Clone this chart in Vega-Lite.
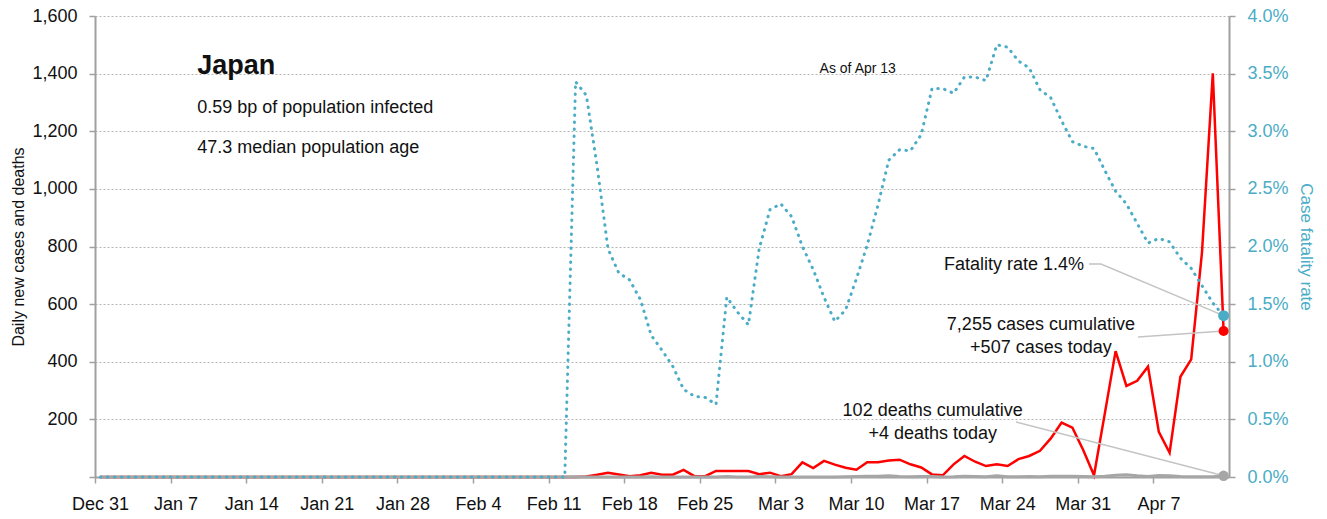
{
  "$schema": "https://vega.github.io/schema/vega-lite/v6.json",
  "width": 1134,
  "height": 461,
  "autosize": {"type": "none"},
  "padding": {"left": 95, "top": 16, "right": 98, "bottom": 42},
  "background": "white",
  "config": {
    "font": "Liberation Sans",
    "view": {"stroke": null},
    "axis": {"labelFontSize": 18, "labelColor": "#111111", "tickSize": 6, "tickColor": "#a0a0a0", "tickWidth": 1.5,
             "domainColor": "#a0a0a0", "domainWidth": 2, "titleFontWeight": "normal", "grid": false},
    "axisBottom": {"labelOffset": 5, "labelPadding": 12, "labelFlush": false, "labelOverlap": false},
    "axisLeft": {"grid": true, "gridColor": "#b4b4b4", "gridDash": [2, 2], "gridWidth": 1, "labelPadding": 12,
                 "titleFontSize": 16, "titleColor": "#111111", "titlePadding": 5},
    "axisRight": {"labelColor": "#4bacc6", "titleColor": "#4bacc6", "labelPadding": 12, "titleFontSize": 17, "titlePadding": 8}
  },
  "datasets": {
    "series": [
      {"date": "2019-12-31", "cases": 0, "deaths": 0, "cfr": 0},
      {"date": "2020-01-01", "cases": 0, "deaths": 0, "cfr": 0},
      {"date": "2020-01-02", "cases": 0, "deaths": 0, "cfr": 0},
      {"date": "2020-01-03", "cases": 0, "deaths": 0, "cfr": 0},
      {"date": "2020-01-04", "cases": 0, "deaths": 0, "cfr": 0},
      {"date": "2020-01-05", "cases": 0, "deaths": 0, "cfr": 0},
      {"date": "2020-01-06", "cases": 0, "deaths": 0, "cfr": 0},
      {"date": "2020-01-07", "cases": 0, "deaths": 0, "cfr": 0},
      {"date": "2020-01-08", "cases": 0, "deaths": 0, "cfr": 0},
      {"date": "2020-01-09", "cases": 0, "deaths": 0, "cfr": 0},
      {"date": "2020-01-10", "cases": 0, "deaths": 0, "cfr": 0},
      {"date": "2020-01-11", "cases": 0, "deaths": 0, "cfr": 0},
      {"date": "2020-01-12", "cases": 0, "deaths": 0, "cfr": 0},
      {"date": "2020-01-13", "cases": 0, "deaths": 0, "cfr": 0},
      {"date": "2020-01-14", "cases": 0, "deaths": 0, "cfr": 0},
      {"date": "2020-01-15", "cases": 0, "deaths": 0, "cfr": 0},
      {"date": "2020-01-16", "cases": 0, "deaths": 0, "cfr": 0},
      {"date": "2020-01-17", "cases": 0, "deaths": 0, "cfr": 0},
      {"date": "2020-01-18", "cases": 0, "deaths": 0, "cfr": 0},
      {"date": "2020-01-19", "cases": 0, "deaths": 0, "cfr": 0},
      {"date": "2020-01-20", "cases": 0, "deaths": 0, "cfr": 0},
      {"date": "2020-01-21", "cases": 0, "deaths": 0, "cfr": 0},
      {"date": "2020-01-22", "cases": 0, "deaths": 0, "cfr": 0},
      {"date": "2020-01-23", "cases": 0, "deaths": 0, "cfr": 0},
      {"date": "2020-01-24", "cases": 0, "deaths": 0, "cfr": 0},
      {"date": "2020-01-25", "cases": 0, "deaths": 0, "cfr": 0},
      {"date": "2020-01-26", "cases": 0, "deaths": 0, "cfr": 0},
      {"date": "2020-01-27", "cases": 0, "deaths": 0, "cfr": 0},
      {"date": "2020-01-28", "cases": 0, "deaths": 0, "cfr": 0},
      {"date": "2020-01-29", "cases": 0, "deaths": 0, "cfr": 0},
      {"date": "2020-01-30", "cases": 0, "deaths": 0, "cfr": 0},
      {"date": "2020-01-31", "cases": 0, "deaths": 0, "cfr": 0},
      {"date": "2020-02-01", "cases": 0, "deaths": 0, "cfr": 0},
      {"date": "2020-02-02", "cases": 0, "deaths": 0, "cfr": 0},
      {"date": "2020-02-03", "cases": 0, "deaths": 0, "cfr": 0},
      {"date": "2020-02-04", "cases": 0, "deaths": 0, "cfr": 0},
      {"date": "2020-02-05", "cases": 0, "deaths": 0, "cfr": 0},
      {"date": "2020-02-06", "cases": 0, "deaths": 0, "cfr": 0},
      {"date": "2020-02-07", "cases": 0, "deaths": 0, "cfr": 0},
      {"date": "2020-02-08", "cases": 0, "deaths": 0, "cfr": 0},
      {"date": "2020-02-09", "cases": 0, "deaths": 0, "cfr": 0},
      {"date": "2020-02-10", "cases": 0, "deaths": 0, "cfr": 0},
      {"date": "2020-02-11", "cases": 0, "deaths": 0, "cfr": 0},
      {"date": "2020-02-12", "cases": 0, "deaths": 0, "cfr": 0},
      {"date": "2020-02-13", "cases": 0, "deaths": 1, "cfr": 0.0343},
      {"date": "2020-02-14", "cases": 2, "deaths": 0, "cfr": 0.0331},
      {"date": "2020-02-15", "cases": 8, "deaths": 0, "cfr": 0.0269},
      {"date": "2020-02-16", "cases": 15, "deaths": 0, "cfr": 0.0198},
      {"date": "2020-02-17", "cases": 9, "deaths": 0, "cfr": 0.0177},
      {"date": "2020-02-18", "cases": 3, "deaths": 0, "cfr": 0.0171},
      {"date": "2020-02-19", "cases": 6, "deaths": 0, "cfr": 0.0154},
      {"date": "2020-02-20", "cases": 15, "deaths": 1, "cfr": 0.0123},
      {"date": "2020-02-21", "cases": 8, "deaths": 0, "cfr": 0.0110},
      {"date": "2020-02-22", "cases": 8, "deaths": 0, "cfr": 0.0096},
      {"date": "2020-02-23", "cases": 25, "deaths": 0, "cfr": 0.0076},
      {"date": "2020-02-24", "cases": 3, "deaths": 0, "cfr": 0.0070},
      {"date": "2020-02-25", "cases": 3, "deaths": 0, "cfr": 0.0069},
      {"date": "2020-02-26", "cases": 21, "deaths": 0, "cfr": 0.0063},
      {"date": "2020-02-27", "cases": 21, "deaths": 2, "cfr": 0.0156},
      {"date": "2020-02-28", "cases": 21, "deaths": 0, "cfr": 0.0143},
      {"date": "2020-02-29", "cases": 21, "deaths": 0, "cfr": 0.0132},
      {"date": "2020-03-01", "cases": 10, "deaths": 2, "cfr": 0.0198},
      {"date": "2020-03-02", "cases": 15, "deaths": 1, "cfr": 0.0232},
      {"date": "2020-03-03", "cases": 3, "deaths": 0, "cfr": 0.0237},
      {"date": "2020-03-04", "cases": 10, "deaths": 0, "cfr": 0.0226},
      {"date": "2020-03-05", "cases": 51, "deaths": 0, "cfr": 0.0200},
      {"date": "2020-03-06", "cases": 31, "deaths": 0, "cfr": 0.0180},
      {"date": "2020-03-07", "cases": 56, "deaths": 0, "cfr": 0.0156},
      {"date": "2020-03-08", "cases": 43, "deaths": 0, "cfr": 0.0135},
      {"date": "2020-03-09", "cases": 32, "deaths": 1, "cfr": 0.0145},
      {"date": "2020-03-10", "cases": 25, "deaths": 2, "cfr": 0.0172},
      {"date": "2020-03-11", "cases": 51, "deaths": 3, "cfr": 0.0201},
      {"date": "2020-03-12", "cases": 51, "deaths": 3, "cfr": 0.0236},
      {"date": "2020-03-13", "cases": 57, "deaths": 4, "cfr": 0.0275},
      {"date": "2020-03-14", "cases": 60, "deaths": 2, "cfr": 0.0284},
      {"date": "2020-03-15", "cases": 44, "deaths": 1, "cfr": 0.0283},
      {"date": "2020-03-16", "cases": 33, "deaths": 2, "cfr": 0.0297},
      {"date": "2020-03-17", "cases": 9, "deaths": 2, "cfr": 0.0337},
      {"date": "2020-03-18", "cases": 6, "deaths": 0, "cfr": 0.0337},
      {"date": "2020-03-19", "cases": 44, "deaths": 1, "cfr": 0.0333},
      {"date": "2020-03-20", "cases": 73, "deaths": 3, "cfr": 0.0347},
      {"date": "2020-03-21", "cases": 53, "deaths": 2, "cfr": 0.0347},
      {"date": "2020-03-22", "cases": 38, "deaths": 1, "cfr": 0.0344},
      {"date": "2020-03-23", "cases": 44, "deaths": 4, "cfr": 0.0375},
      {"date": "2020-03-24", "cases": 38, "deaths": 1, "cfr": 0.0373},
      {"date": "2020-03-25", "cases": 62, "deaths": 1, "cfr": 0.0361},
      {"date": "2020-03-26", "cases": 73, "deaths": 2, "cfr": 0.0355},
      {"date": "2020-03-27", "cases": 91, "deaths": 1, "cfr": 0.0336},
      {"date": "2020-03-28", "cases": 134, "deaths": 3, "cfr": 0.0329},
      {"date": "2020-03-29", "cases": 189, "deaths": 3, "cfr": 0.0309},
      {"date": "2020-03-30", "cases": 171, "deaths": 3, "cfr": 0.0291},
      {"date": "2020-03-31", "cases": 94, "deaths": 2, "cfr": 0.0287},
      {"date": "2020-04-01", "cases": 6, "deaths": 1, "cfr": 0.0285},
      {"date": "2020-04-02", "cases": 220, "deaths": 3, "cfr": 0.0266},
      {"date": "2020-04-03", "cases": 437, "deaths": 6, "cfr": 0.0248},
      {"date": "2020-04-04", "cases": 316, "deaths": 8, "cfr": 0.0237},
      {"date": "2020-04-05", "cases": 334, "deaths": 4, "cfr": 0.0220},
      {"date": "2020-04-06", "cases": 383, "deaths": 2, "cfr": 0.0203},
      {"date": "2020-04-07", "cases": 157, "deaths": 5, "cfr": 0.0207},
      {"date": "2020-04-08", "cases": 84, "deaths": 4, "cfr": 0.0204},
      {"date": "2020-04-09", "cases": 348, "deaths": 2, "cfr": 0.0190},
      {"date": "2020-04-10", "cases": 408, "deaths": 1, "cfr": 0.0181},
      {"date": "2020-04-11", "cases": 780, "deaths": 1, "cfr": 0.0166},
      {"date": "2020-04-12", "cases": 1401, "deaths": 1, "cfr": 0.0151},
      {"date": "2020-04-13", "cases": 507, "deaths": 4, "cfr": 0.0140}
    ],
    "links": [
      {"link": "fatality", "order": 1, "date": "2020-04-01T01:00:00Z", "value": 739},
      {"link": "fatality", "order": 2, "date": "2020-04-02T03:30:00Z", "value": 739},
      {"link": "fatality", "order": 3, "date": "2020-04-13T12:00:00Z", "value": 560},
      {"link": "cases", "order": 1, "date": "2020-04-05T14:00:00Z", "value": 486},
      {"link": "cases", "order": 2, "date": "2020-04-13T12:00:00Z", "value": 507},
      {"link": "deaths", "order": 1, "date": "2020-03-25T06:30:00Z", "value": 191},
      {"link": "deaths", "order": 2, "date": "2020-04-13T12:00:00Z", "value": 4}
    ]
  },
  "layer": [
    {
      "layer": [
        {
          "data": {"name": "series"},
          "mark": {"type": "line", "color": "#ff0000", "strokeWidth": 2.5},
          "encoding": {
            "x": {"field": "date", "timeUnit": "utcyearmonthdate", "type": "temporal", "bandPosition": 0.5, "title": null,
                  "scale": {"type": "utc", "domain": [{"year": 2019, "month": 12, "date": 31, "utc": true}, {"year": 2020, "month": 4, "date": 14, "utc": true}]},
                  "axis": {
                    "values": [
                      {"year": 2019, "month": 12, "date": 31, "utc": true},
                      {"year": 2020, "month": 1, "date": 7, "utc": true},
                      {"year": 2020, "month": 1, "date": 14, "utc": true},
                      {"year": 2020, "month": 1, "date": 21, "utc": true},
                      {"year": 2020, "month": 1, "date": 28, "utc": true},
                      {"year": 2020, "month": 2, "date": 4, "utc": true},
                      {"year": 2020, "month": 2, "date": 11, "utc": true},
                      {"year": 2020, "month": 2, "date": 18, "utc": true},
                      {"year": 2020, "month": 2, "date": 25, "utc": true},
                      {"year": 2020, "month": 3, "date": 3, "utc": true},
                      {"year": 2020, "month": 3, "date": 10, "utc": true},
                      {"year": 2020, "month": 3, "date": 17, "utc": true},
                      {"year": 2020, "month": 3, "date": 24, "utc": true},
                      {"year": 2020, "month": 3, "date": 31, "utc": true},
                      {"year": 2020, "month": 4, "date": 7, "utc": true}
                    ],
                    "format": "%b %-d", "formatType": "utc", "labelExpr": "utcFormat(datum.value, '%b %-d')"
                  }},
            "y": {"field": "cases", "type": "quantitative",
                  "scale": {"domain": [0, 1600], "nice": false},
                  "axis": {
                    "values": [0, 200, 400, 600, 800, 1000, 1200, 1400, 1600],
                    "format": ",", "labelExpr": "datum.value === 0 ? '' : format(datum.value, ',')",
                    "title": "Daily new cases and deaths"
                  }}
          }
        },
        {
          "data": {"name": "series"},
          "mark": {"type": "line", "color": "#a6a6a6", "strokeWidth": 3},
          "encoding": {
            "x": {"field": "date", "timeUnit": "utcyearmonthdate", "type": "temporal", "bandPosition": 0.5,
                  "axis": {"format": "%b %-d", "formatType": "utc", "labelExpr": "utcFormat(datum.value, '%b %-d')"}},
            "y": {"field": "deaths", "type": "quantitative",
                  "axis": {"format": ",", "labelExpr": "datum.value === 0 ? '' : format(datum.value, ',')"}}
          }
        },
        {
          "data": {"name": "links"},
          "mark": {"type": "line", "color": "#c4c4c4", "strokeWidth": 1.5},
          "encoding": {
            "x": {"field": "date", "type": "temporal", "axis": {"format": "%b %-d", "formatType": "utc", "labelExpr": "utcFormat(datum.value, '%b %-d')"}},
            "y": {"field": "value", "type": "quantitative",
                  "axis": {"format": ",", "labelExpr": "datum.value === 0 ? '' : format(datum.value, ',')"}},
            "detail": {"field": "link"},
            "order": {"field": "order"}
          }
        },
        {
          "data": {"name": "series"},
          "transform": [{"filter": {"field": "date", "timeUnit": "utcyearmonthdate", "equal": {"year": 2020, "month": 4, "date": 13, "utc": true}}}],
          "mark": {"type": "point", "filled": true, "color": "#ff0000", "size": 100, "opacity": 1},
          "encoding": {
            "x": {"field": "date", "timeUnit": "utcyearmonthdate", "type": "temporal", "bandPosition": 0.5,
                  "axis": {"format": "%b %-d", "formatType": "utc", "labelExpr": "utcFormat(datum.value, '%b %-d')"}},
            "y": {"field": "cases", "type": "quantitative",
                  "axis": {"format": ",", "labelExpr": "datum.value === 0 ? '' : format(datum.value, ',')"}}
          }
        },
        {
          "data": {"name": "series"},
          "transform": [{"filter": {"field": "date", "timeUnit": "utcyearmonthdate", "equal": {"year": 2020, "month": 4, "date": 13, "utc": true}}}],
          "mark": {"type": "point", "filled": true, "color": "#a6a6a6", "size": 110, "opacity": 1},
          "encoding": {
            "x": {"field": "date", "timeUnit": "utcyearmonthdate", "type": "temporal", "bandPosition": 0.5,
                  "axis": {"format": "%b %-d", "formatType": "utc", "labelExpr": "utcFormat(datum.value, '%b %-d')"}},
            "y": {"field": "deaths", "type": "quantitative",
                  "axis": {"format": ",", "labelExpr": "datum.value === 0 ? '' : format(datum.value, ',')"}}
          }
        },
        {
          "data": {"values": [
            {"text": "Japan", "date": "2020-01-09T11:00:00Z", "value": 1400}
          ]},
          "mark": {"type": "text", "align": "left", "baseline": "alphabetic", "fontSize": 27, "fontWeight": "bold", "color": "#111111"},
          "encoding": {"x": {"field": "date", "type": "temporal", "axis": {"format": "%b %-d", "formatType": "utc", "labelExpr": "utcFormat(datum.value, '%b %-d')"}},
                       "y": {"field": "value", "type": "quantitative",
                             "axis": {"format": ",", "labelExpr": "datum.value === 0 ? '' : format(datum.value, ',')"}},
                       "text": {"field": "text"}}
        },
        {
          "data": {"values": [
            {"text": "0.59 bp of population infected", "date": "2020-01-09T11:00:00Z", "value": 1263},
            {"text": "47.3 median population age", "date": "2020-01-09T11:00:00Z", "value": 1126}
          ]},
          "mark": {"type": "text", "align": "left", "baseline": "alphabetic", "fontSize": 18, "color": "#111111"},
          "encoding": {"x": {"field": "date", "type": "temporal", "axis": {"format": "%b %-d", "formatType": "utc", "labelExpr": "utcFormat(datum.value, '%b %-d')"}},
                       "y": {"field": "value", "type": "quantitative",
                             "axis": {"format": ",", "labelExpr": "datum.value === 0 ? '' : format(datum.value, ',')"}},
                       "text": {"field": "text"}}
        },
        {
          "data": {"values": [
            {"text": "As of Apr 13", "date": "2020-03-10T15:00:00Z", "value": 1416}
          ]},
          "mark": {"type": "text", "align": "center", "baseline": "middle", "fontSize": 14, "color": "#111111"},
          "encoding": {"x": {"field": "date", "type": "temporal", "axis": {"format": "%b %-d", "formatType": "utc", "labelExpr": "utcFormat(datum.value, '%b %-d')"}},
                       "y": {"field": "value", "type": "quantitative",
                             "axis": {"format": ",", "labelExpr": "datum.value === 0 ? '' : format(datum.value, ',')"}},
                       "text": {"field": "text"}}
        },
        {
          "data": {"values": [
            {"text": "Fatality rate 1.4%", "date": "2020-03-31T14:00:00Z", "value": 736}
          ]},
          "mark": {"type": "text", "align": "right", "baseline": "middle", "fontSize": 18, "color": "#111111"},
          "encoding": {"x": {"field": "date", "type": "temporal", "axis": {"format": "%b %-d", "formatType": "utc", "labelExpr": "utcFormat(datum.value, '%b %-d')"}},
                       "y": {"field": "value", "type": "quantitative",
                             "axis": {"format": ",", "labelExpr": "datum.value === 0 ? '' : format(datum.value, ',')"}},
                       "text": {"field": "text"}}
        },
        {
          "data": {"values": [
            {"text": "7,255 cases cumulative", "date": "2020-03-27T14:00:00Z", "value": 528},
            {"text": "+507 cases today", "date": "2020-03-27T14:00:00Z", "value": 448},
            {"text": "102 deaths cumulative", "date": "2020-03-17T13:30:00Z", "value": 229},
            {"text": "+4 deaths today", "date": "2020-03-17T13:30:00Z", "value": 149}
          ]},
          "mark": {"type": "text", "align": "center", "baseline": "middle", "fontSize": 18, "color": "#111111"},
          "encoding": {"x": {"field": "date", "type": "temporal", "axis": {"format": "%b %-d", "formatType": "utc", "labelExpr": "utcFormat(datum.value, '%b %-d')"}},
                       "y": {"field": "value", "type": "quantitative",
                             "axis": {"format": ",", "labelExpr": "datum.value === 0 ? '' : format(datum.value, ',')"}},
                       "text": {"field": "text"}}
        }
      ]
    },
    {
      "data": {"name": "series"},
      "layer": [
        {
          "mark": {"type": "line", "color": "#4bacc6", "strokeWidth": 3, "strokeDash": [0.5, 6.5], "strokeCap": "round"},
          "encoding": {
            "x": {"field": "date", "timeUnit": "utcyearmonthdate", "type": "temporal", "bandPosition": 0.5,
                  "axis": {"format": "%b %-d", "formatType": "utc", "labelExpr": "utcFormat(datum.value, '%b %-d')"}},
            "y": {"field": "cfr", "type": "quantitative",
                  "scale": {"domain": [0, 0.04], "nice": false},
                  "axis": {
                    "orient": "right",
                    "values": [0, 0.005, 0.01, 0.015, 0.02, 0.025, 0.03, 0.035, 0.04],
                    "format": ".1%", "labelExpr": "format(datum.value, '.1%')",
                    "title": "Case fatality rate"
                  }}
          }
        },
        {
          "transform": [{"filter": {"field": "date", "timeUnit": "utcyearmonthdate", "equal": {"year": 2020, "month": 4, "date": 13, "utc": true}}}],
          "mark": {"type": "point", "filled": true, "color": "#4bacc6", "size": 120, "opacity": 1},
          "encoding": {
            "x": {"field": "date", "timeUnit": "utcyearmonthdate", "type": "temporal", "bandPosition": 0.5,
                  "axis": {"format": "%b %-d", "formatType": "utc", "labelExpr": "utcFormat(datum.value, '%b %-d')"}},
            "y": {"field": "cfr", "type": "quantitative",
                  "axis": {"orient": "right", "format": ".1%", "labelExpr": "format(datum.value, '.1%')"}}
          }
        }
      ]
    }
  ],
  "resolve": {"scale": {"y": "independent"}}
}
